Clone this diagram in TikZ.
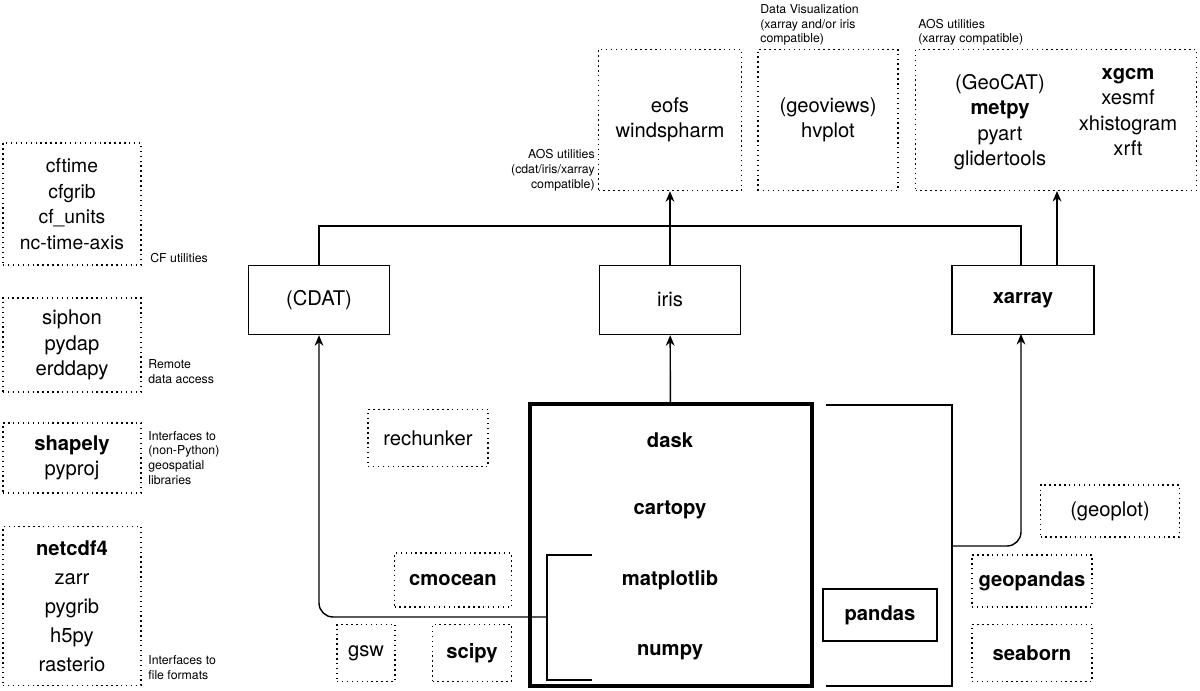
\documentclass[tikz,border=0pt]{standalone}
\usepackage{fontspec}
\setmainfont{TeX Gyre Heros}
\usetikzlibrary{arrows.meta, positioning}

\begin{document}
\begin{tikzpicture}[
    x=0.02cm, y=-0.02cm,
    lib/.style={rectangle, draw=black, dotted, thick, align=center, font=\fontsize{11.5}{14.5}\selectfont, inner sep=0pt},
    pkg/.style={rectangle, draw=black, thick, align=center, font=\fontsize{11.5}{14.5}\selectfont, inner sep=0pt},
    note/.style={align=left, font=\fontsize{7}{8.5}\selectfont, inner sep=0pt},
    line/.style={thick, rounded corners=8pt},
    >={Stealth[length=6pt, width=5pt]}
]
\useasboundingbox (0,0) rectangle (1200,690);

% Left column
\node[lib, minimum width=138*0.02cm, minimum height=122*0.02cm, font=\fontsize{11}{14.5}\selectfont] (cf) at (72,204) {cftime\\cfgrib\\cf\_units\\nc-time-axis};
\node[lib, minimum width=138*0.02cm, minimum height=94*0.02cm]  (remote)  at (72,345)  {siphon\\pydap\\erddapy};
\node[lib, minimum width=138*0.02cm, minimum height=70*0.02cm]  (geo)     at (72,458)  {\textbf{shapely}\\pyproj};
\node[lib, minimum width=138*0.02cm, minimum height=159*0.02cm, font=\fontsize{11.5}{16.5}\selectfont] (formats) at (72,606) {\textbf{netcdf4}\\zarr\\pygrib\\h5py\\rasterio};
\node[note, anchor=west] (cfnote)      at (150,258) {CF utilities};
\node[note, anchor=west] (remotenote)  at (148,372) {Remote\\data access};
\node[note, anchor=west] (geonote)     at (148,458) {Interfaces to\\(non-Python)\\geospatial\\libraries};
\node[note, anchor=west] (formatnote)  at (148,668) {Interfaces to\\file formats};

% Top row
\node[lib, minimum width=143*0.02cm, minimum height=141*0.02cm] (eofs)     at (670,120)  {eofs\\windspharm};
\node[lib, minimum width=140*0.02cm, minimum height=141*0.02cm] (viz)      at (828,120)  {(geoviews)\\hvplot};
\node[lib, minimum width=281*0.02cm, minimum height=141*0.02cm] (aos)      at (1056,120) {};
\node[align=center, font=\fontsize{11.5}{14.5}\selectfont] (aosleft)  at (1000,122) {(GeoCAT)\\\textbf{metpy}\\pyart\\glidertools};
\node[align=center, font=\fontsize{11.5}{14.5}\selectfont] (aosright) at (1128,112) {\textbf{xgcm}\\xesmf\\xhistogram\\xrft};
\node[note, align=right, anchor=east] (eofsnote) at (595,170) {AOS utilities\\(cdat/iris/xarray\\compatible)};
\node[note, anchor=south west] (viznote) at (760,46) {Data Visualization\\(xarray and/or iris\\compatible)};
\node[note, anchor=south west] (aosnote) at (918,46) {AOS utilities\\(xarray compatible)};

% Middle row
\node[pkg, minimum width=141*0.02cm, minimum height=69*0.02cm] (cdat)   at (319,300)  {(CDAT)};
\node[pkg, minimum width=141*0.02cm, minimum height=69*0.02cm] (iris)   at (670,300)  {iris};
\node[pkg, minimum width=142*0.02cm, minimum height=69*0.02cm] (xarray) at (1023,300) {\textbf{xarray}};

% Core stack
\node[pkg, line width=2.2pt, minimum width=282*0.02cm, minimum height=282*0.02cm] (core) at (671,545) {};
\node[font=\fontsize{11.5}{14}\selectfont\bfseries] (dask)       at (670,440) {dask};
\node[font=\fontsize{11.5}{14}\selectfont\bfseries] (cartopy)    at (670,510) {cartopy};
\node[font=\fontsize{11.5}{14}\selectfont\bfseries] (matplotlib) at (670,580) {matplotlib};
\node[font=\fontsize{11.5}{14}\selectfont\bfseries] (numpy)      at (670,652) {numpy};
\node[lib, minimum width=120*0.02cm, minimum height=57*0.02cm] (rechunker) at (428,438) {rechunker};
\node[lib, minimum width=117*0.02cm, minimum height=54*0.02cm] (cmocean)   at (453,580) {\textbf{cmocean}};
\node[lib, minimum width=58*0.02cm,  minimum height=57*0.02cm] (gsw)       at (366,653) {gsw};
\node[lib, minimum width=79*0.02cm,  minimum height=57*0.02cm] (scipy)     at (472,653) {\textbf{scipy}};
\node[pkg, minimum width=114*0.02cm, minimum height=52*0.02cm] (pandas)    at (880,615) {\textbf{pandas}};
\node[lib, minimum width=139*0.02cm, minimum height=52*0.02cm] (geoplot)   at (1110,511) {(geoplot)};
\node[lib, minimum width=120*0.02cm, minimum height=52*0.02cm] (geopandas) at (1032,581) {\textbf{geopandas}};
\node[lib, minimum width=120*0.02cm, minimum height=57*0.02cm] (seaborn)   at (1032,653) {\textbf{seaborn}};

% Brackets
\coordinate (pltjoin) at (547,617);
\coordinate (pdjoin)  at (952,546);
\coordinate (top)     at (726,226);
\coordinate (xin)     at (1021,334);
\coordinate (xleft)   at (1021,265);
\coordinate (xright)  at (1057,265);
\coordinate (aosin)   at (1057,191);
\draw[thick] (592,555) -| (pltjoin) |- (592,680);
\draw[thick] (826,405) -| (pdjoin) |- (826,686);

% Arrows
\draw[line, ->] (pltjoin) -| (cdat);
\draw[thick, ->] (core) -- (iris);
\draw[line, ->] (pdjoin) -| (xin);
\draw[thick] (cdat.north) |- (top);
\draw[thick] (xleft) |- (top);
\draw[thick, ->] (iris) -- (eofs);
\draw[thick, ->] (xright) -- (aosin);
\end{tikzpicture}
\end{document}
